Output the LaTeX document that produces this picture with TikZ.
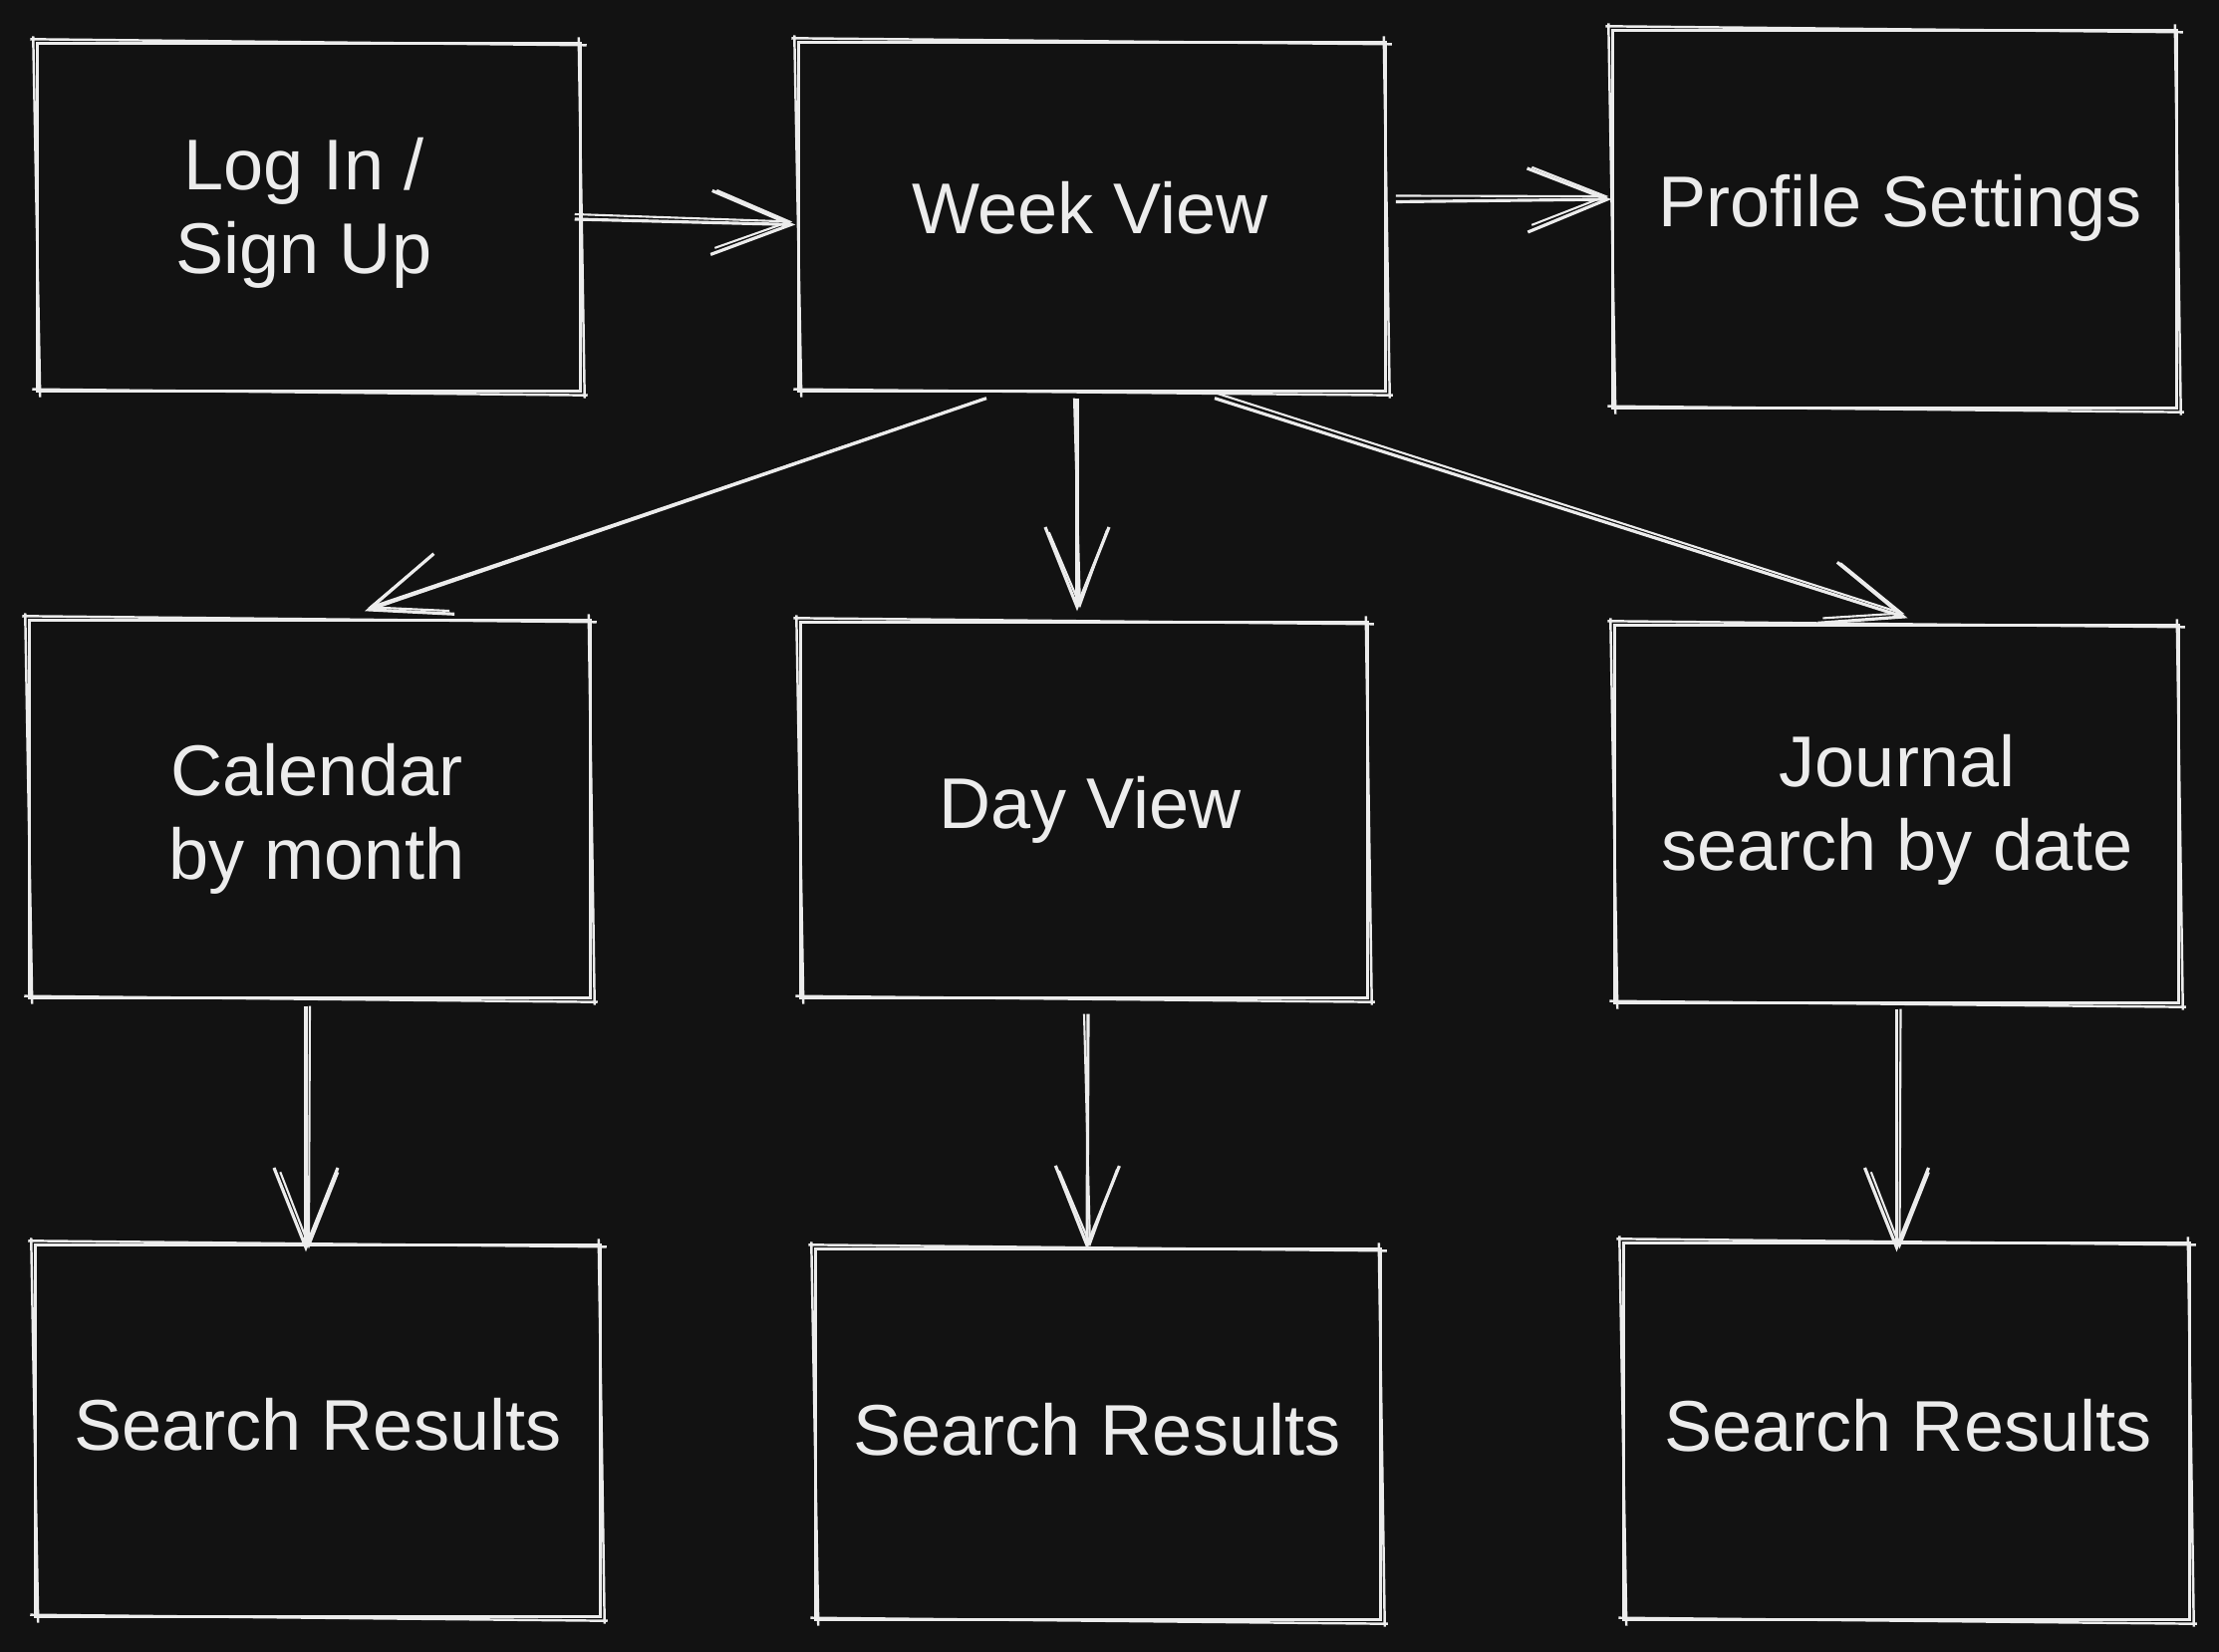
\documentclass[tikz,border=0pt]{standalone}
\usepackage{fontspec}
\setmainfont{Liberation Sans}
\usetikzlibrary{arrows.meta}
\definecolor{bg}{HTML}{121212}
\definecolor{ink}{HTML}{ECECEC}
\tikzset{
  box/.style={draw=ink, line width=0.9pt, inner sep=0pt},
  lbl/.style={text=ink, align=center, font=\fontsize{20.5}{24}\selectfont, inner sep=0pt},
  sk/.style={draw=ink, line width=0.7pt},
  conn/.style={draw=ink, line width=0.9pt, -{Straight Barb[length=0.8cm,width=0.64cm,line width=0.9pt]}},
  conn2/.style={draw=ink, line width=0.6pt, -{Straight Barb[length=0.74cm,width=0.58cm,line width=0.6pt]}},
}
\newcommand{\rough}[1]{%
  \draw[sk] ([shift={(-6,-3)}]#1.north west) -- ([shift={(5,3)}]#1.north east);
  \draw[sk] ([shift={(-3,-5)}]#1.north east) -- ([shift={(3,6)}]#1.south east);
  \draw[sk] ([shift={(6,3)}]#1.south east) -- ([shift={(-4,-3)}]#1.south west);
  \draw[sk] ([shift={(4,5)}]#1.south west) -- ([shift={(-3,-6)}]#1.north west);
}
\begin{document}
\begin{tikzpicture}[x=0.01cm,y=-0.01cm]
\fill[bg] (0,0) rectangle (2227,1658);
\useasboundingbox (0,0) rectangle (2227,1658);

% boxes
\node[box, minimum width=5.44cm, minimum height=3.48cm] (login) at (310,218) {};
\node[box, minimum width=5.88cm, minimum height=3.49cm] (week) at (1096,217.5) {};
\node[box, minimum width=5.65cm, minimum height=3.78cm] (prof) at (1901.5,220) {};
\node[box, minimum width=5.62cm, minimum height=3.78cm] (cal) at (311,812) {};
\node[box, minimum width=5.68cm, minimum height=3.76cm] (day) at (1088,813) {};
\node[box, minimum width=5.65cm, minimum height=3.78cm] (jour) at (1903.5,817) {};
\node[box, minimum width=5.66cm, minimum height=3.72cm] (sr1) at (319,1436) {};
\node[box, minimum width=5.66cm, minimum height=3.71cm] (sr2) at (1102,1439.5) {};
\node[box, minimum width=5.67cm, minimum height=3.77cm] (sr3) at (1913.5,1436.5) {};

% labels
\node[lbl] (loginT) at (305,214) {Log In /\\Sign Up};
\node[lbl] (weekT) at (1094,208.5) {Week View};
\node[lbl] (profT) at (1907,209) {Profile Settings};
\node[lbl] (calT) at (318,822) {Calendar\\by month};
\node[lbl] (dayT) at (1094,813) {Day View};
\node[lbl] (jourT) at (1904,813) {Journal\\search by date};
\node[lbl] (sr1T) at (319,1430) {Search Results};
\node[lbl] (sr2T) at (1101,1434.5) {Search Results};
\node[lbl] (sr3T) at (1915,1430.5) {Search Results};

\foreach \n in {login,week,prof,cal,day,jour,sr1,sr2,sr3} {\rough{\n}}

% connectors
\draw[conn] ([shift={(-7,2)}]login.east) -- ([shift={(-2,8)}]week.west);
\draw[conn2] ([shift={(-7,-3)}]login.east) -- ([shift={(-5,5)}]week.west);

\draw[conn] ([shift={(9,-15)}]week.east) -- ([shift={(0,-20)}]prof.west);
\draw[conn2] ([shift={(9,-21)}]week.east) -- ([shift={(-3,-23)}]prof.west);

\draw[conn] ([shift={(-106,6)}]week.south) -- ([shift={(55,-8)}]cal.north);
\draw[conn2] ([shift={(-110,7)}]week.south) -- ([shift={(58,-11)}]cal.north);

\draw[conn] ([shift={(-15,6)}]week.south) -- ([shift={(-7,-10)}]day.north);
\draw[conn2] ([shift={(-18,6)}]week.south) -- ([shift={(-4,-13)}]day.north);

\draw[conn] ([shift={(123,6)}]week.south) -- ([shift={(11,-6)}]jour.north);
\draw[conn2] ([shift={(125,1)}]week.south) -- ([shift={(8,-10)}]jour.north);

\draw[conn] ([shift={(-4,7)}]cal.south) -- ([shift={(-12,8)}]sr1.north);
\draw[conn2] ([shift={(0,7)}]cal.south) -- ([shift={(-9,5)}]sr1.north);

\draw[conn] ([shift={(4,15)}]day.south) -- ([shift={(-11,2)}]sr2.north);
\draw[conn2] ([shift={(0,15)}]day.south) -- ([shift={(-8,-1)}]sr2.north);

\draw[conn] ([shift={(0,5)}]jour.south) -- ([shift={(-10,10)}]sr3.north);
\draw[conn2] ([shift={(4,5)}]jour.south) -- ([shift={(-7,7)}]sr3.north);
\end{tikzpicture}
\end{document}
